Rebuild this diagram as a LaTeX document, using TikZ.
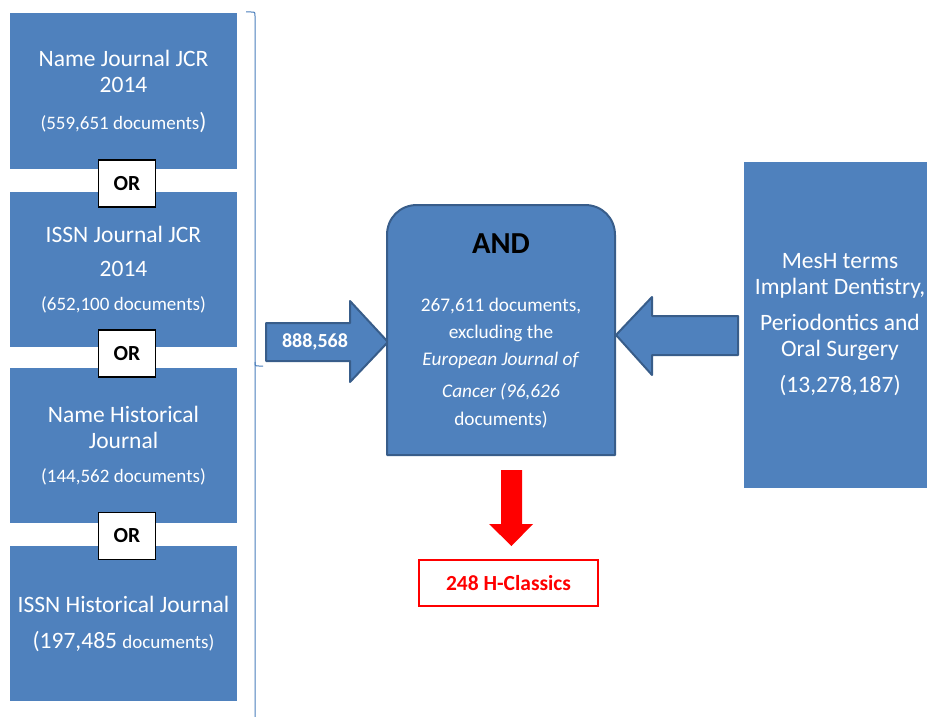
\documentclass[tikz,border=0pt]{standalone}
\usepackage{fontspec}
\setmainfont{Carlito}
\definecolor{boxblue}{HTML}{4F81BD}
\definecolor{edgeblue}{HTML}{385D8A}
\definecolor{bracketblue}{HTML}{4A7EBB}
\newcommand{\docsize}{\fontsize{19}{22}\selectfont}
\newcommand{\bigsize}{\fontsize{23.5}{26}\selectfont}
\tikzset{
  srcbox/.style={fill=boxblue, text=white, minimum width=227pt, minimum height=155pt, inner sep=0pt, align=center, font=\bigsize},
  orbox/.style={draw=black, line width=1.2pt, fill=white, minimum width=57pt, minimum height=47pt, font=\bfseries\fontsize{21.5}{24}\selectfont},
  blockarrow/.style={fill=boxblue, draw=edgeblue, line width=2pt, line join=round},
  boxtext/.style={text=white, align=center}
}
\begin{document}
\begin{tikzpicture}[x=1pt,y=-1pt]
\useasboundingbox (0,0) rectangle (927,717);

\node[srcbox] (jcrname) at (123.5,91) {Name Journal JCR\\2014\\[11pt]{\docsize (559,651 documents}{\bigsize)}};
\node[srcbox] (jcrissn) at (123.5,269.5) {ISSN Journal JCR\\[8pt]2014\\[8pt]{\docsize (652,100 documents)}};
\node[srcbox] (histname) at (123.5,445.5) {Name Historical\\Journal\\[8pt]{\docsize (144,562 documents)}};
\node[srcbox] (histissn) at (123.5,623.5) {ISSN Historical Journal\\[10pt](197,485 {\docsize documents)}};

\node[orbox] (or1) at (127,183.5) {OR};
\node[orbox] (or2) at (127,353.5) {OR};
\node[orbox] (or3) at (127,536) {OR};

\draw[bracketblue, line width=1pt] (246,12) -- (251,12) .. controls (255,12) .. (255,16) -- (255,717);
\draw[bracketblue, line width=1pt] (255,362) .. controls (255,366) .. (259,366) -- (263,366);

\draw[blockarrow] (266,323) -- (350,323) -- (350,301) -- (388,342) -- (350,382) -- (350,361) -- (266,361) -- cycle;
\node[text=white, font=\bfseries\fontsize{20}{22}\selectfont] (total) at (315,342) {888,568};

\draw[blockarrow] (387,455) -- (387,235) .. controls (387,218) and (400,205) .. (417,205) -- (585,205)
  .. controls (602,205) and (615,218) .. (615,235) -- (615,455) -- cycle;
\node[boxtext, font=\fontsize{19.3}{27}\selectfont] (andbox) at (501,331) {{\color{black}\bfseries\fontsize{30.5}{32}\selectfont AND}\\[31pt]
  267,611 documents,\\excluding the\\\textit{European Journal of}\\[5pt]\textit{Cancer (96,626}\\[1pt]documents)};

\draw[blockarrow] (616,335) -- (652,297) -- (652,316) -- (738,316) -- (738,355) -- (652,355) -- (652,375) -- cycle;

\node[fill=boxblue, minimum width=190pt, minimum height=326pt, inner sep=0pt] (mesh) at (839,325) {};
\node[boxtext, font=\bigsize] (meshtext) at (840,325) {MesH terms\\Implant Dentistry,\\[10pt]Periodontics and\\Oral Surgery\\[10pt](13,278,187)};

\fill[red] (501,470) -- (522,470) -- (522,524) -- (533,524) -- (511.5,546) -- (489,524) -- (501,524) -- cycle;
\node[draw=red, line width=1.2pt, fill=white, text=red, minimum width=179pt, minimum height=46pt, font=\bfseries\fontsize{21.5}{24}\selectfont] (classics) at (508.5,583) {248 H-Classics};
\end{tikzpicture}
\end{document}
